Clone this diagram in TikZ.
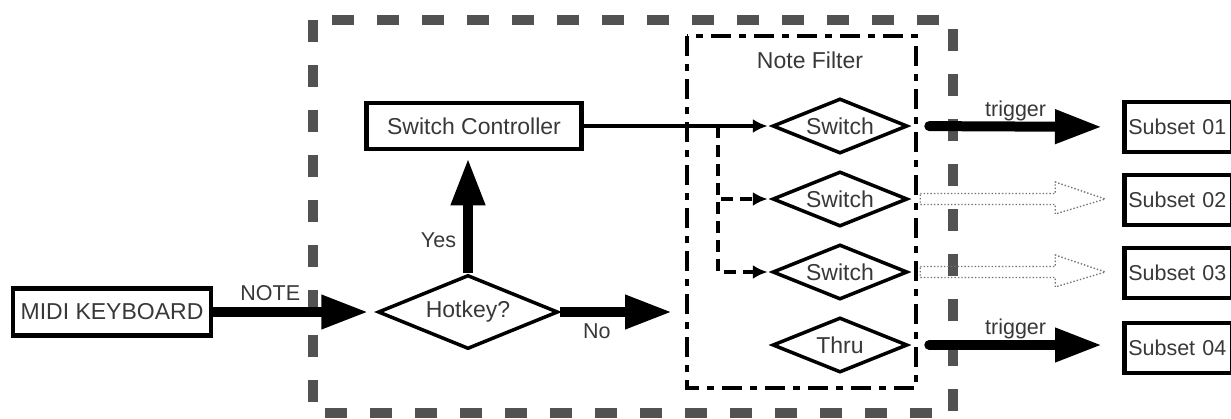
\documentclass[tikz,border=0pt]{standalone}
\usepackage{fontspec}
\setmainfont{Liberation Sans}
\usetikzlibrary{shapes.geometric,arrows.meta}
\colorlet{txtcol}{black!78}
\colorlet{framecol}{black!68}
\colorlet{offcol}{black!55}
\tikzset{
  box/.style={draw, line width=4.5pt, inner sep=0pt, text=txtcol},
  subset/.style={box, anchor=west, minimum height=50pt, text width=100pt, inner xsep=4pt,
    align=left, font=\fontsize{21.5}{25}\selectfont},
  choice/.style={draw, diamond, aspect=2.5, line width=3.5pt, inner sep=0pt,
    minimum width=135pt, minimum height=55pt, text=txtcol},
  lbl/.style={text=txtcol, inner sep=1pt, font=\fontsize{21.5}{24}\selectfont},
  bigarrow/.style={line width=10pt, arrows={-Triangle[length=47pt,width=32pt]}},
  thinarrow/.style={line width=3.5pt, arrows={-Latex[length=15pt,width=14pt]}},
  forkline/.style={thinarrow, dash pattern=on 12pt off 7pt},
  hollow/.style={offcol, dotted, line width=1.4pt}
}
\newcommand\hollowarrow[1]{%
  \draw[hollow] (#1.east) ++(11,-5.5) -- ++(135,0) -- ++(0,-11.5) -- ++(50,17)
    -- ++(-50,15) -- ++(0,-9.5) -- ++(-135,0) -- cycle;}
\begin{document}
\begin{tikzpicture}[x=1pt, y=-1pt, font=\fontsize{23}{27}\selectfont]
    \useasboundingbox (0,0) rectangle (1231,418);
    \clip (0,0) rectangle (1231,418);

    % frames
    \draw[framecol, line width=10pt, dash pattern=on 22pt off 23pt] (313,20) rectangle (953,413);
    \draw[line width=4pt, dash pattern=on 20pt off 8pt on 7pt off 8pt] (687,36) rectangle (916,388);

    \node[box, minimum width=198pt, minimum height=47pt] (midi) at (112,312) {MIDI KEYBOARD};
    \node[choice, minimum width=180pt, minimum height=74pt, aspect=2.4] (hot) at (468,312) {Hotkey?};
    \node[box, minimum width=215pt, minimum height=46pt] (ctrl) at (474,126) {Switch Controller};
    \node[text=txtcol] (nf) at (810,60) {Note Filter};

    \node[choice] (sw1) at (840,126) {Switch};
    \node[choice] (sw2) at (840,199) {Switch};
    \node[choice] (sw3) at (840,272) {Switch};
    \node[choice] (thru) at (840,345) {Thru};

    \node[subset] (sub1) at (1122,127) {Subset 01};
    \node[subset] (sub2) at (1122,200) {Subset 02};
    \node[subset] (sub3) at (1122,273) {Subset 03};
    \node[subset] (sub4) at (1122,348) {Subset 04};

    % main flow
    \draw[bigarrow, shorten >=8pt] (midi.east) -- (hot.west) node[lbl, pos=.35, above=5pt] {NOTE};
    \draw[bigarrow, shorten >=7pt] (hot.north) -- (hot.north |- ctrl.south) node[lbl, pos=.27, left=6pt] {Yes};
    \coordinate (nofree) at (672,312);
    \draw[bigarrow] (hot.east) -- (nofree) node[lbl, pos=.33, below=6pt] {No};

    % controller into the filter
    \draw[thinarrow, shorten >=3pt] (ctrl.east) -- (sw1.west);
    \coordinate (fork) at (718,126);
    \draw[forkline, shorten >=3pt] (fork) |- (sw2.west);
    \draw[forkline, shorten >=3pt] (fork) |- (sw3.west);

    % outputs
    \draw[bigarrow, line cap=round, shorten <=20pt, shorten >=20pt] (sw1.east) -- (sub1.west)
        node[lbl, midway, above=0pt] {trigger};
    \hollowarrow{sw2}
    \hollowarrow{sw3}
    \draw[bigarrow, line cap=round, shorten <=20pt, shorten >=20pt] (thru.east) -- (thru.east -| sub4.west)
        node[lbl, midway, above=0pt] {trigger};
\end{tikzpicture}
\end{document}
